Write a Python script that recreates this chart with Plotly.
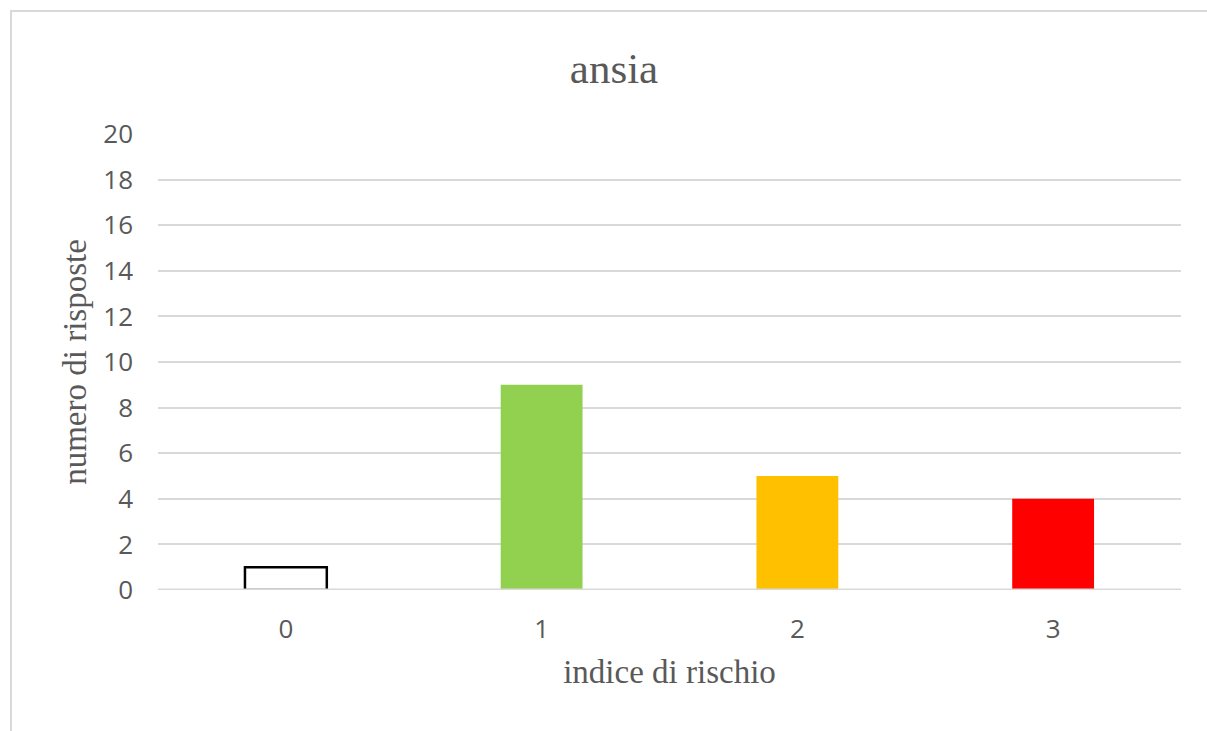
import plotly.graph_objects as go

categories = ["0", "1", "2", "3"]
values = [1, 9, 5, 4]
bar_colors = ["#FFFFFF", "#92D050", "#FFC000", "#FF0000"]
outline_colors = ["#000000", "#92D050", "#FFC000", "#FF0000"]
outline_widths = [2.5, 0, 0, 0]
y_ticks = list(range(0, 21, 2))

W, H = 1207, 731
L, R, T, B = 158, 26, 134, 141
pw, ph = W - L - R, H - T - B

def px(x):
    return (x - L) / pw

def py(y):
    return (H - B - y) / ph

fig = go.Figure()
fig.add_trace(go.Bar(
    x=categories, y=values, width=0.32,
    marker=dict(color=bar_colors, line=dict(color=outline_colors, width=outline_widths)),
    hoverinfo="x+y",
))

fig.update_layout(
    width=W, height=H,
    margin=dict(l=L, r=R, t=T, b=B, autoexpand=False),
    paper_bgcolor="white", plot_bgcolor="white",
    showlegend=False,
    title=dict(text="ansia", x=(614) / W, xanchor="center", y=1 - 68 / H, yanchor="middle",
               yref="container", xref="container",
               font=dict(family="Liberation Serif", size=43, color="#595959")),
    xaxis=dict(
        type="category",
        showgrid=False, zeroline=False, showline=False,
        ticks="", ticklabelstandoff=21,
        tickfont=dict(family="Open Sans", size=26, color="#595959"),
        title=dict(text="indice di rischio", standoff=14,
                   font=dict(family="Liberation Serif", size=33, color="#595959")),
    ),
    yaxis=dict(
        range=[0, 20], tickvals=y_ticks, ticktext=[str(v) for v in y_ticks],
        showgrid=True, gridcolor="#D9D9D9", gridwidth=2,
        zeroline=False, showline=False,
        ticks="", ticklabelstandoff=24,
        tickfont=dict(family="Open Sans", size=26, color="#595959"),
        title=dict(text="numero di risposte", standoff=6,
                   font=dict(family="Liberation Serif", size=33, color="#595959")),
    ),
    shapes=[
        dict(type="line", xref="paper", yref="y", layer="above",
             x0=0, x1=1, y0=0, y1=0,
             line=dict(color="#D9D9D9", width=3)),
        dict(type="line", xref="paper", yref="paper",
             x0=px(10), x1=px(W + 5), y0=py(11), y1=py(11),
             line=dict(color="#D9D9D9", width=2)),
        dict(type="line", xref="paper", yref="paper",
             x0=px(11), x1=px(11), y0=py(11), y1=py(H + 5),
             line=dict(color="#D9D9D9", width=2)),
    ],
)

fig.write_html("out.html", config={"displayModeBar": False})
